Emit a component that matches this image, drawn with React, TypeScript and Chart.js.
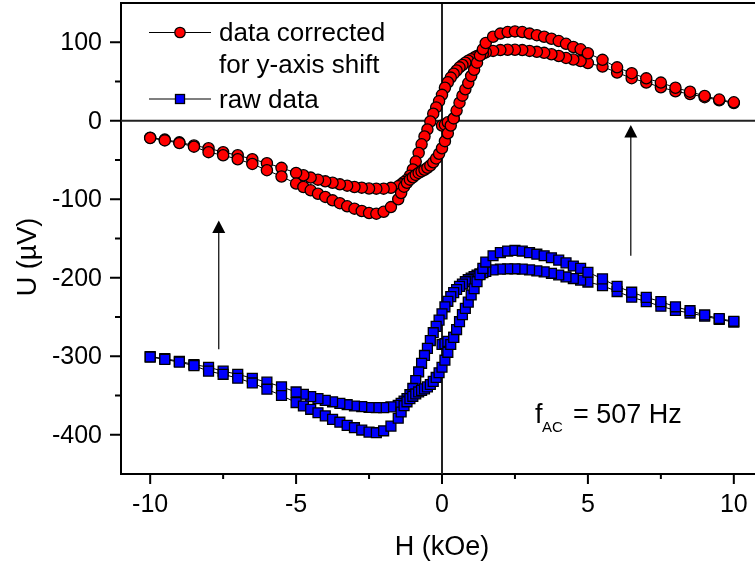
import React, { useEffect, useRef } from 'react';
import { Chart, registerables } from 'chart.js';

Chart.register(...registerables);

// Applied field H (kOe), sweep order from +10 down to -10 (shared by both branches)
const FIELD = [
  10, 9.5, 9, 8.5, 8, 7.5, 7, 6.5, 6, 5.5, 5,
  4.75, 4.5, 4.25, 4, 3.75, 3.5, 3.25, 3, 2.75, 2.5, 2.25, 2, 1.75, 1.5,
  1.4, 1.3, 1.2, 1.1, 1.0, 0.9, 0.8, 0.7, 0.6, 0.5, 0.4, 0.3, 0.2, 0.1, 0,
  -0.1, -0.2, -0.3, -0.4, -0.5, -0.6, -0.7, -0.8, -0.9, -1.0, -1.1, -1.2, -1.3, -1.4,
  -1.5, -1.75, -2, -2.25, -2.5, -2.75, -3, -3.25, -3.5, -3.75, -4, -4.25, -4.5, -4.75,
  -5, -5.5, -6, -6.5, -7, -7.5, -8, -8.5, -9, -9.5, -10,
];

// Corrected data (µV): descending sweep branch
const corrDown = [
  22.5, 26, 30, 34, 37.5, 42.7, 48.6, 54.2, 61.4, 69, 73.5,
  76, 78, 80, 82.5, 84.7, 86.5, 87.8, 89, 90, 90.4, 90.4, 90, 89, 87,
  85.5, 84, 82.5, 80.5, 78.5, 76.5, 74, 71, 68, 64, 60, 55, 49, 42, 33,
  25, 17, 9, -1, -11, -20, -30, -41, -52, -62, -70, -75, -78, -81,
  -83.5, -85.5, -86.5, -86.5, -86.3, -85.2, -84.4, -82.7, -81, -79, -77.2, -75, -72.4, -69.4,
  -66.5, -60, -54, -49, -44, -40, -35, -31.5, -27.5, -24, -21.5,
];

// Corrected data (µV): ascending sweep branch (listed in the same H order as FIELD)
const corrUp = [
  23.5, 27, 31.6, 37, 42, 48.6, 54, 60.6, 68, 77.6, 86,
  91, 94, 98, 101.5, 104.5, 107, 109, 111, 113, 113.8, 113, 111, 107, 99,
  91, 83, 74, 65, 57, 48, 40, 32, 23, 13, 3, -6, -16, -26, -35,
  -42, -48, -53, -57, -60, -62.5, -64.5, -66.5, -69, -72, -75, -79, -84, -92,
  -100, -110, -116, -118.4, -117.6, -115, -112, -109, -105, -101.4, -97, -93, -88.6, -84.4,
  -80, -71, -63, -55, -49, -44, -40, -33, -28.5, -25, -22,
];

// Raw data (µV): descending sweep branch
const rawDown = [
  -256.5, -253, -249, -245, -241.5, -236.3, -230.4, -224.8, -217.6, -210, -205.5,
  -203, -201, -199, -196.5, -194.3, -192.5, -191.2, -190, -189, -188.6, -188.6, -189, -190, -192,
  -193.5, -195, -196.5, -198.5, -200.5, -202.5, -205, -208, -211, -215, -219, -224, -230, -237, -246,
  -254, -262, -270, -280, -290, -299, -309, -320, -331, -341, -349, -354, -357, -360,
  -362.5, -364.5, -365.5, -365.5, -365.3, -364.2, -363.4, -361.7, -360, -358, -356.2, -354, -351.4, -348.4,
  -345.5, -339, -333, -328, -323, -319, -314, -310.5, -306.5, -303, -300.5,
];

// Raw data (µV): ascending sweep branch (same H order as FIELD)
const rawUp = [
  -255.5, -252, -247.4, -242, -237, -230.4, -225, -218.4, -211, -201.4, -193,
  -188, -185, -181, -177.5, -174.5, -172, -170, -168, -166, -165.2, -166, -168, -172, -180,
  -188, -196, -205, -214, -222, -231, -239, -247, -256, -266, -276, -285, -295, -305, -314,
  -321, -327, -332, -336, -339, -341.5, -343.5, -345.5, -348, -351, -354, -358, -363, -371,
  -379, -389, -395, -397.4, -396.6, -394, -391, -388, -384, -380.4, -376, -372, -367.6, -363.4,
  -359, -350, -342, -334, -328, -323, -319, -312, -307.5, -304, -301,
];

// Initial points of the measurement near H = 0
const virginField = [0, 0.1, 0.2, 0.4];
const corrVirgin = [-6, -5, -2, 3];
const rawVirgin = [-285, -284, -281, -276];

const xTicks = [-10, -5, 0, 5, 10];
const xMinorTicks = [-7.5, -2.5, 2.5, 7.5];
const yTicks = [-400, -300, -200, -100, 0, 100];
const yMinorTicks = [-350, -250, -150, -50, 50];

const legendLines = ['data corrected', 'for y-axis shift', 'raw data'];
const xTitle = 'H (kOe)';
const yTitle = 'U (µV)';
const noteMain = 'f';
const noteSub = 'AC';
const noteRest = '= 507 Hz';

// Arrows in data coordinates: x position, shaft bottom, tip
const arrowX = [-7.65, 6.47];
const arrowFrom = [-291, -172];
const arrowTo = [-127, -5.5];

const FONT = "'Liberation Sans', Arial, sans-serif";
const RED = '#ff0000';
const BLUE = '#0000ff';

const loop = (down: number[], up: number[]) => [
  ...FIELD.map((h, i) => ({ x: h, y: down[i] })),
  ...FIELD.map((h, i) => ({ x: h, y: up[i] })).reverse(),
];

const tickText = (t: any) => (t.label !== undefined && t.label !== null ? String(t.label) : String(t.value));

const overlay = {
  id: 'overlay',
  beforeDatasetsDraw(chart: any) {
    const { ctx, chartArea: a, scales } = chart;
    const x = scales.x;
    const y = scales.y;
    ctx.save();
    ctx.strokeStyle = '#222';
    ctx.lineWidth = 2;
    const x0 = x.getPixelForValue(0);
    const y0 = y.getPixelForValue(0);
    ctx.beginPath();
    ctx.moveTo(x0, a.top);
    ctx.lineTo(x0, a.bottom);
    ctx.moveTo(a.left, y0);
    ctx.lineTo(a.right, y0);
    ctx.stroke();
    ctx.restore();
  },
  afterDraw(chart: any) {
    const { ctx, chartArea: a, scales } = chart;
    const x = scales.x;
    const y = scales.y;
    ctx.save();
    // frame top / right
    ctx.strokeStyle = '#000';
    ctx.lineWidth = 2;
    ctx.beginPath();
    ctx.moveTo(a.left - 1, a.top);
    ctx.lineTo(a.right, a.top);
    ctx.lineTo(a.right, a.bottom);
    ctx.stroke();
    // tick marks
    ctx.beginPath();
    x.ticks.forEach((t: any) => {
      const p = x.getPixelForValue(t.value);
      ctx.moveTo(p, a.bottom);
      ctx.lineTo(p, a.bottom + 10);
    });
    xMinorTicks.forEach((v) => {
      const p = x.getPixelForValue(v);
      ctx.moveTo(p, a.bottom);
      ctx.lineTo(p, a.bottom + 5);
    });
    y.ticks.forEach((t: any) => {
      const p = y.getPixelForValue(t.value);
      ctx.moveTo(a.left, p);
      ctx.lineTo(a.left - 11, p);
    });
    yMinorTicks.forEach((v) => {
      const p = y.getPixelForValue(v);
      ctx.moveTo(a.left, p);
      ctx.lineTo(a.left - 6, p);
    });
    ctx.stroke();

    // tick labels from the chart's scales
    ctx.fillStyle = '#000';
    ctx.font = `25px ${FONT}`;
    ctx.textAlign = 'center';
    ctx.textBaseline = 'alphabetic';
    x.ticks.forEach((t: any) => {
      ctx.fillText(tickText(t), x.getPixelForValue(t.value), a.bottom + 38);
    });
    ctx.textAlign = 'right';
    ctx.textBaseline = 'middle';
    y.ticks.forEach((t: any) => {
      ctx.fillText(tickText(t), a.left - 19, y.getPixelForValue(t.value) + 1);
    });

    // arrows
    ctx.lineWidth = 1.2;
    arrowX.forEach((ax, i) => {
      const px = x.getPixelForValue(ax);
      const pb = y.getPixelForValue(arrowFrom[i]);
      const pt = y.getPixelForValue(arrowTo[i]);
      ctx.beginPath();
      ctx.moveTo(px, pb);
      ctx.lineTo(px, pt + 10);
      ctx.stroke();
      ctx.beginPath();
      ctx.moveTo(px, pt);
      ctx.lineTo(px - 6.5, pt + 12.5);
      ctx.lineTo(px + 6.5, pt + 12.5);
      ctx.closePath();
      ctx.fill();
    });

    // axis titles
    ctx.font = `27px ${FONT}`;
    ctx.textAlign = 'center';
    ctx.textBaseline = 'alphabetic';
    ctx.fillText(xTitle, x.getPixelForValue(0), 555);
    ctx.save();
    ctx.translate(36, 257);
    ctx.rotate(-Math.PI / 2);
    ctx.fillText(yTitle, 0, 0);
    ctx.restore();

    // annotation
    ctx.textAlign = 'left';
    ctx.font = `27px ${FONT}`;
    ctx.fillText(noteMain, 535, 423);
    ctx.font = `15px ${FONT}`;
    ctx.fillText(noteSub, 542, 432);
    ctx.font = `27px ${FONT}`;
    ctx.fillText(noteRest, 573, 423);

    // legend
    ctx.strokeStyle = '#000';
    ctx.lineWidth = 1.2;
    ctx.beginPath();
    ctx.moveTo(149, 32.5);
    ctx.lineTo(211, 32.5);
    ctx.moveTo(149, 99);
    ctx.lineTo(211, 99);
    ctx.stroke();
    ctx.lineWidth = 1.3;
    ctx.fillStyle = RED;
    ctx.beginPath();
    ctx.arc(180, 32.5, 5.2, 0, Math.PI * 2);
    ctx.fill();
    ctx.stroke();
    ctx.fillStyle = BLUE;
    ctx.fillRect(175.5, 94.5, 9, 9);
    ctx.strokeRect(175.5, 94.5, 9, 9);
    ctx.fillStyle = '#000';
    ctx.font = `26px ${FONT}`;
    ctx.fillText(legendLines[0], 219, 41);
    ctx.fillText(legendLines[1], 219, 73);
    ctx.fillText(legendLines[2], 219, 108);
    ctx.restore();
  },
};

export default function App() {
  const ref = useRef<HTMLCanvasElement | null>(null);

  useEffect(() => {
    if (!ref.current) return;
    const common = {
      borderColor: '#000',
      borderWidth: 1,
      pointBorderColor: '#000',
      pointBorderWidth: 1.3,
      showLine: true,
      tension: 0,
      fill: false,
    };
    const chart = new Chart(ref.current, {
      type: 'line',
      data: {
        datasets: [
          {
            ...common,
            label: 'raw data',
            data: loop(rawDown, rawUp),
            pointStyle: 'rect',
            pointRadius: 7,
            pointBackgroundColor: BLUE,
          },
          {
            ...common,
            label: 'raw start',
            data: virginField.map((h, i) => ({ x: h, y: rawVirgin[i] })),
            pointStyle: 'rect',
            pointRadius: 7,
            pointBackgroundColor: BLUE,
          },
          {
            ...common,
            label: 'data corrected for y-axis shift',
            data: loop(corrDown, corrUp),
            pointStyle: 'circle',
            pointRadius: 5.6,
            pointBackgroundColor: RED,
          },
          {
            ...common,
            label: 'corrected start',
            data: virginField.map((h, i) => ({ x: h, y: corrVirgin[i] })),
            pointStyle: 'circle',
            pointRadius: 5.6,
            pointBackgroundColor: RED,
          },
        ],
      } as any,
      options: {
        responsive: false,
        maintainAspectRatio: false,
        animation: false,
        events: [],
        devicePixelRatio: 1,
        layout: { autoPadding: false, padding: { top: 3, left: 0, right: 0, bottom: 0 } },
        plugins: { legend: { display: false }, tooltip: { enabled: false } },
        scales: {
          x: {
            type: 'linear',
            position: 'bottom',
            min: -11,
            max: 11,
            grid: { display: false, drawTicks: false },
            border: { display: true, color: '#000', width: 2 },
            ticks: { display: false },
            afterBuildTicks: (s: any) => {
              s.ticks = xTicks.map((v) => ({ value: v }));
            },
            afterFit: (s: any) => {
              s.height = 94;
            },
          },
          y: {
            type: 'linear',
            position: 'left',
            min: -450,
            max: 150,
            grid: { display: false, drawTicks: false },
            border: { display: true, color: '#000', width: 2 },
            ticks: { display: false },
            afterBuildTicks: (s: any) => {
              s.ticks = yTicks.map((v) => ({ value: v }));
            },
            afterFit: (s: any) => {
              s.width = 121;
            },
          },
        },
      } as any,
      plugins: [overlay],
    });
    return () => chart.destroy();
  }, []);

  return (
    <div
      style={{
        position: 'fixed',
        left: 0,
        top: 0,
        width: 755,
        height: 568,
        overflow: 'hidden',
        background: '#fff',
      }}
    >
      <div style={{ width: 763, height: 568 }}>
        <canvas ref={ref} width={763} height={568} style={{ display: 'block', width: 763, height: 568 }} />
      </div>
    </div>
  );
}
